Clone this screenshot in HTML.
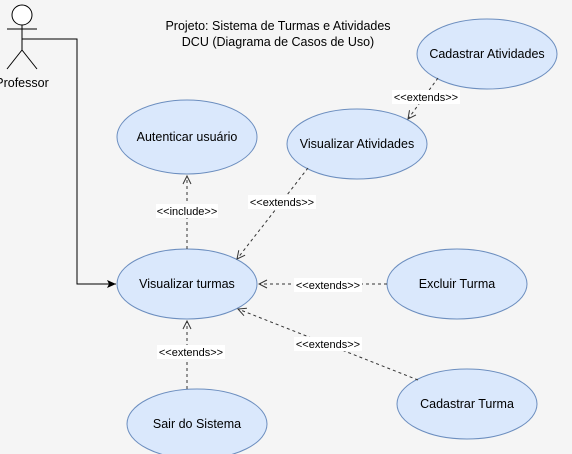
<!DOCTYPE html>
<html><head><meta charset="utf-8"><style>
html,body{margin:0;padding:0;background:#f5f5f5;}
svg{display:block;font-family:"Liberation Sans",Arial,sans-serif;}
</style></head><body>
<svg width="572" height="454" viewBox="0 0 572 454" xmlns="http://www.w3.org/2000/svg">
<defs>
<marker id="open" markerWidth="10" markerHeight="10" refX="9" refY="5" orient="auto" markerUnits="userSpaceOnUse">
<path d="M1,1 L9,5 L1,9" fill="none" stroke="#333" stroke-width="1"/>
</marker>
<marker id="fill" markerWidth="10" markerHeight="10" refX="9" refY="5" orient="auto" markerUnits="userSpaceOnUse">
<path d="M0,1 L9,5 L0,9 L2,5 Z" fill="#000"/>
</marker>
</defs>
<rect width="572" height="454" fill="#f5f5f5"/>
<g stroke="#000" stroke-width="1" fill="none">
<circle cx="22" cy="15" r="10" fill="#fff"/>
<line x1="22" y1="25" x2="22" y2="50"/>
<line x1="7" y1="29" x2="37" y2="29"/>
<line x1="22" y1="50" x2="7" y2="69"/>
<line x1="22" y1="50" x2="37" y2="69"/>
</g>
<text x="22" y="87" font-size="12.5" text-anchor="middle">Professor</text>
<polyline points="22,39 77,39 77,284 116,284" fill="none" stroke="#000" marker-end="url(#fill)"/>
<text x="278" y="30" font-size="12.5" text-anchor="middle">Projeto: Sistema de Turmas e Atividades</text>
<text x="278" y="46" font-size="12.5" text-anchor="middle">DCU (Diagrama de Casos de Uso)</text>
<g fill="#dae8fc" stroke="#6c8ebf" stroke-width="1">
<ellipse cx="187" cy="137" rx="70" ry="37"/>
<ellipse cx="187" cy="284" rx="70" ry="35"/>
<ellipse cx="457" cy="284" rx="70" ry="35"/>
<ellipse cx="467" cy="404" rx="70" ry="35"/>
<ellipse cx="197" cy="424" rx="70" ry="35"/>
<ellipse cx="357" cy="144" rx="70" ry="35"/>
<ellipse cx="487" cy="54" rx="70" ry="35"/>
</g>
<g font-size="12.5" text-anchor="middle" fill="#000">
<text x="187" y="141">Autenticar usuário</text>
<text x="187" y="288">Visualizar turmas</text>
<text x="457" y="288">Excluir Turma</text>
<text x="467" y="408">Cadastrar Turma</text>
<text x="197" y="428">Sair do Sistema</text>
<text x="357" y="148">Visualizar Atividades</text>
<text x="487" y="58">Cadastrar Atividades</text>
</g>
<g stroke="#333" stroke-dasharray="3,3" fill="none">
<line x1="187" y1="249" x2="187" y2="176" marker-end="url(#open)"/>
<line x1="187" y1="389" x2="187" y2="321" marker-end="url(#open)"/>
<line x1="387" y1="284" x2="259" y2="284" marker-end="url(#open)"/>
<line x1="418" y1="380" x2="238" y2="309" marker-end="url(#open)"/>
<line x1="308" y1="168" x2="237" y2="259" marker-end="url(#open)"/>
<line x1="438" y1="78" x2="408" y2="119" marker-end="url(#open)"/>
</g>
<g font-size="11" text-anchor="middle">
<rect x="156" y="204" width="62" height="14" fill="#fff"/><text x="187" y="215">&lt;&lt;include&gt;&gt;</text>
<rect x="157" y="345" width="68" height="14" fill="#fff"/><text x="191" y="356">&lt;&lt;extends&gt;&gt;</text>
<rect x="294" y="278" width="68" height="14" fill="#fff"/><text x="328" y="289">&lt;&lt;extends&gt;&gt;</text>
<rect x="294" y="337" width="68" height="14" fill="#fff"/><text x="328" y="348">&lt;&lt;extends&gt;&gt;</text>
<rect x="248" y="195" width="68" height="14" fill="#fff"/><text x="282" y="206">&lt;&lt;extends&gt;&gt;</text>
<rect x="392" y="90" width="68" height="14" fill="#fff"/><text x="426" y="101">&lt;&lt;extends&gt;&gt;</text>
</g>
</svg>
</body></html>
